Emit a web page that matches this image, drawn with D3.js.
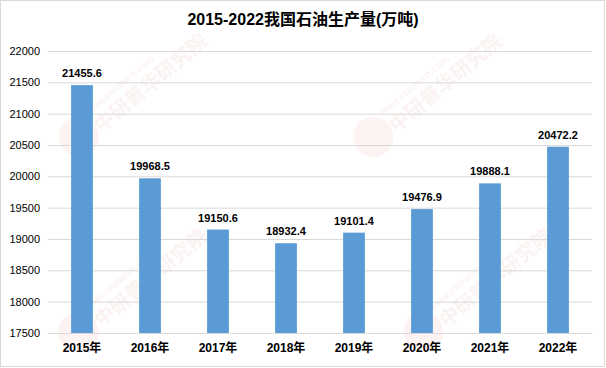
<!DOCTYPE html>
<html>
<head>
<meta charset="utf-8">
<script src="https://cdn.jsdelivr.net/npm/d3@7"></script>
<style>
  body { margin: 0; background: #fff; }
  text { font-family: "Liberation Sans", "Noto Sans CJK SC", sans-serif; }
</style>
</head>
<body>
<svg></svg>
<script>
// chart data
var years = ["2015年", "2016年", "2017年", "2018年", "2019年", "2020年", "2021年", "2022年"];
var output = [21455.6, 19968.5, 19150.6, 18932.4, 19101.4, 19476.9, 19888.1, 20472.2];
var yTicks = [17500, 18000, 18500, 19000, 19500, 20000, 20500, 21000, 21500, 22000];

var width = 606,
    height = 368;

var svg = d3.select("svg")
    .attr("width", width)
    .attr("height", height);

// outer frame
svg.append("rect")
    .attr("x", 0.5).attr("y", 0.5)
    .attr("width", width - 2).attr("height", height - 2)
    .attr("fill", "#fff")
    .attr("stroke", "#d9d9d9");

var plotLeft = 48, plotRight = 592, plotTop = 51, plotBottom = 333;

var x = d3.scaleBand()
    .domain(years)
    .range([plotLeft, plotRight])
    .paddingInner(0.68)
    .paddingOuter(0.34);

var y = d3.scaleLinear()
    .domain([17500, 22000])
    .range([plotBottom, plotTop]);

// watermarks (faint)
var marks = [[95, 110], [390, 110], [95, 305], [440, 305]];
marks.forEach(function (m) {
  var g = svg.append("g")
      .attr("transform", "translate(" + m[0] + "," + m[1] + ") rotate(-40)")
      .attr("opacity", 0.06);
  g.append("circle").attr("cx", -30).attr("cy", 10).attr("r", 20).attr("fill", "#e8464b");
  g.append("text").attr("x", -10).attr("y", 0)
      .attr("font-size", 10).attr("font-weight", "bold").attr("fill", "#c03030")
      .text("www.chinairn.com");
  g.append("text").attr("x", -10).attr("y", 22)
      .attr("font-size", 20).attr("font-weight", "bold").attr("fill", "#c03030")
      .text("中研普华研究院");
});

// gridlines + y labels
var yAxis = svg.append("g")
    .attr("transform", "translate(" + plotLeft + ",0)")
    .call(d3.axisLeft(y).tickValues(yTicks).tickFormat(d3.format("d"))
      .tickSize(-(plotRight - plotLeft)).tickPadding(8));
yAxis.select(".domain").remove();
yAxis.selectAll(".tick line").attr("stroke", "#d9d9d9");
yAxis.selectAll(".tick text")
    .attr("font-size", 11)
    .attr("fill", "#000");

// bars
svg.selectAll("rect.bar")
    .data(output)
  .enter().append("rect")
    .attr("class", "bar")
    .attr("x", function (d, i) { return x(years[i]); })
    .attr("y", function (d) { return y(d); })
    .attr("width", x.bandwidth())
    .attr("height", function (d) { return plotBottom - y(d); })
    .attr("fill", "#5b9bd5");

// value labels
svg.selectAll("text.val")
    .data(output)
  .enter().append("text")
    .attr("class", "val")
    .attr("x", function (d, i) { return x(years[i]) + x.bandwidth() / 2; })
    .attr("y", function (d) { return y(d) - 8; })
    .attr("text-anchor", "middle")
    .attr("font-size", 11)
    .attr("font-weight", "bold")
    .text(function (d) { return d.toFixed(1); });

// x axis
var xAxis = svg.append("g")
    .attr("transform", "translate(0," + plotBottom + ")")
    .call(d3.axisBottom(x).tickSize(0).tickPadding(10));
xAxis.select(".domain").attr("stroke", "#d9d9d9");
xAxis.selectAll(".tick text")
    .attr("font-size", 12)
    .attr("font-weight", "bold")
    .attr("fill", "#000");

// title
svg.append("text")
    .attr("x", 303)
    .attr("y", 25)
    .attr("text-anchor", "middle")
    .attr("font-size", 16)
    .attr("font-weight", "bold")
    .text("2015-2022我国石油生产量(万吨)");
</script>
</body>
</html>
